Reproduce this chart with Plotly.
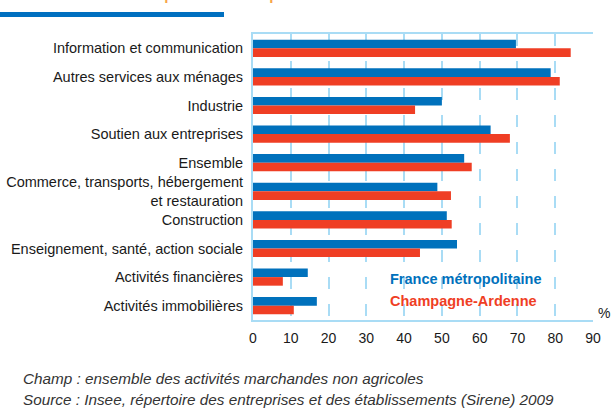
import plotly.graph_objects as go

categories = [
    "Information et communication",
    "Autres services aux ménages",
    "Industrie",
    "Soutien aux entreprises",
    "Ensemble",
    "Commerce, transports, hébergement<br>et restauration",
    "Construction",
    "Enseignement, santé, action sociale",
    "Activités financières",
    "Activités immobilières",
]
france = [69.6, 78.8, 50.0, 62.9, 55.9, 48.8, 51.3, 54.0, 14.5, 16.9]
champagne = [84.1, 81.2, 42.9, 68.0, 57.9, 52.4, 52.6, 44.2, 7.9, 10.8]
series_names = ["France métropolitaine", "Champagne-Ardenne"]
x_ticks = [0, 10, 20, 30, 40, 50, 60, 70, 80, 90]

BLUE = "#0071bc"
RED = "#ef3e24"
GRID = "#a9dcf5"
FONT = "Liberation Sans, Arial, sans-serif"

W, H = 615, 410
ML, MR, MT, MB = 253, 22, 34, 90
PW, PH = W - ML - MR, H - MT - MB


def px(x):
    return (x - ML) / PW


def py(y):
    return (H - MB - y) / PH


fig = go.Figure()
fig.add_trace(go.Bar(y=categories, x=france, orientation="h", name=series_names[0],
                     marker=dict(color=BLUE, line=dict(width=0))))
fig.add_trace(go.Bar(y=categories, x=champagne, orientation="h", name=series_names[1],
                     marker=dict(color=RED, line=dict(width=0))))

fig.update_layout(
    width=W, height=H,
    margin=dict(l=ML, r=MR, t=MT, b=MB, pad=0, autoexpand=False),
    paper_bgcolor="white", plot_bgcolor="white",
    barmode="group", bargap=0.4, bargroupgap=0,
    showlegend=False,
    font=dict(family=FONT, size=14, color="#1a1a1a"),
    xaxis=dict(range=[0, 90], tickvals=x_ticks, showgrid=True, gridcolor=GRID, gridwidth=2,
               griddash="12px,15px", zeroline=False, showline=True, mirror=True,
               linecolor=GRID, linewidth=2, ticks="", tickfont=dict(size=14),
               ticklabelstandoff=4, automargin=False),
    yaxis=dict(autorange="reversed", showgrid=False, zeroline=False, showline=True,
               linecolor=GRID, linewidth=2, ticks="", tickfont=dict(size=14.5),
               ticklabelstandoff=5, automargin=False),
)

annotations = [
    dict(text="<b>Taux de survie à cinq ans des entreprises créées en 2006 selon leur activité</b>",
         x=px(15), y=py(-5.5), xanchor="left", yanchor="middle",
         font=dict(size=15, color="#f7a54a", family=FONT), showarrow=False),
    dict(text="<b>" + series_names[0] + "</b>", x=px(388), y=py(279), xanchor="left", yanchor="middle",
         font=dict(size=14.5, color=BLUE), showarrow=False),
    dict(text="<b>" + series_names[1] + "</b>", x=px(388), y=py(301), xanchor="left", yanchor="middle",
         font=dict(size=14.5, color=RED), showarrow=False),
    dict(text="%", x=px(596), y=py(313), xanchor="left", yanchor="middle",
         font=dict(size=14), showarrow=False),
    dict(text="<i>Champ : ensemble des activités marchandes non agricoles</i>", x=px(21), y=py(378),
         xanchor="left", yanchor="middle", font=dict(size=15.3, color="#333333"), showarrow=False),
    dict(text="<i>Source : Insee, répertoire des entreprises et des établissements (Sirene) 2009</i>",
         x=px(21), y=py(399), xanchor="left", yanchor="middle", font=dict(size=15.3, color="#333333"),
         showarrow=False),
]
for a in annotations:
    a.update(xref="paper", yref="paper")
fig.update_layout(annotations=annotations)

fig.add_shape(type="rect", xref="paper", yref="paper", x0=px(0), x1=px(224), y0=py(17), y1=py(12),
              fillcolor="#0070c0", line=dict(width=0), layer="above")

fig.write_html("out.html")
